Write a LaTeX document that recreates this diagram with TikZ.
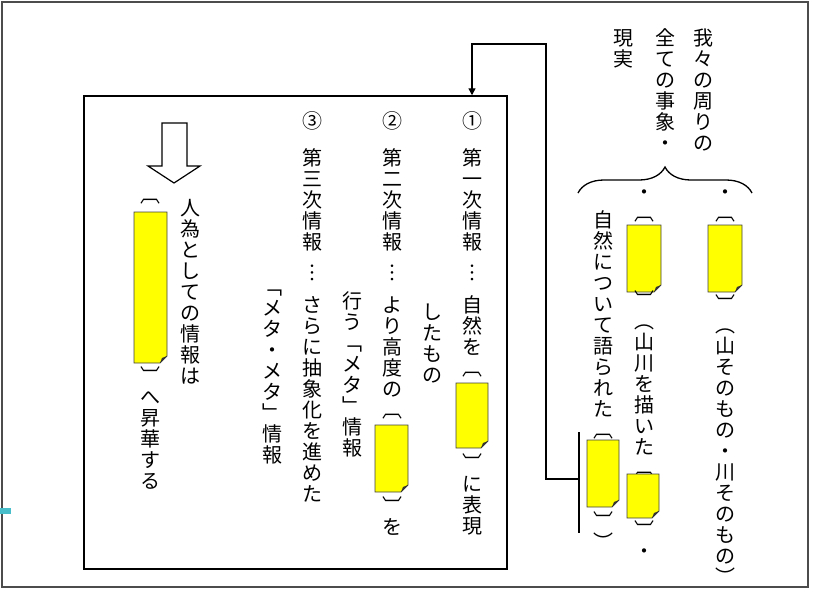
\documentclass[tikz,border=0pt]{standalone}
\usepackage{fontspec}
\setmainfont{Noto Sans CJK JP}
\usetikzlibrary{positioning,decorations.pathreplacing,arrows.meta}
\definecolor{cardyellow}{RGB}{255,255,0}
\definecolor{tickteal}{RGB}{72,190,202}

% one character per cell, top to bottom
\ExplSyntaxOn
\cs_new_protected:Npn \tate_cell:n #1
  { \hbox_to_wd:nn { 21pt } { \hss \vrule~width~0pt~height~18pt~depth~3pt #1 \hss } }
\NewDocumentCommand{\tatecol}{m}
  {
    \vbox
      {
        \offinterlineskip
        \tl_map_inline:nn {#1}
          { \token_if_cs:NTF ##1 { ##1 } { \tate_cell:n {##1} } }
      }
  }
\ExplSyntaxOff
\newcommand{\hs}{\kern10.5pt}

% yellow card with a folded corner: x1, y1, x2, y2
\newcommand{\card}[4]{%
  \draw[cardline, fill=cardyellow] (#1,#2) -- (#3,#2) -- (#3,#4-7) -- (#3-7,#4) -- (#1,#4) -- cycle;
  \fill[black!80] (#3,#4-7) -- (#3-7,#4) -- (#3-5,#4-5) -- cycle;
}

\begin{document}
\begin{tikzpicture}[%
    x=1pt, y=-1pt,
    tate/.style={%
        anchor=north,
        inner sep=0pt,
        text=black,
        font=\fontsize{20}{21}\selectfont
    },
    cardline/.style={%
        draw=black!75,
        line width=0.8pt
    },
    frame/.style={%
        draw=black!70,
        line width=1.6pt
    },
    brace/.style={%
        decorate,
        decoration={brace, amplitude=26pt},
        line width=1.3pt
    },
    >={Triangle[length=7pt, width=7pt]}
]
\useasboundingbox (0,0) rectangle (813,595);

% Frames
\draw[frame] (2,2) rectangle (808,587);
\node[draw, line width=1.5pt, minimum width=423pt, minimum height=473pt, inner sep=0pt] (inner) at (295.5,332.5) {};
\draw[line width=6pt, tickteal] (0,511) -- (11,511);

% Reality
\node[tate] (realA) at (703,27) {\tatecol{我々の周りの}};
\node[tate] (realB) at (665,27) {\tatecol{全ての事象・}};
\node[tate] (realC) at (623,27) {\tatecol{現実}};
\draw[brace] (578,193) -- (752,193);

% Mountain and river
\node[tate] (dotD) at (725,181) {\tatecol{・︹}};
\card{708}{225}{742}{292}
\node[tate] (textD) at (725,293) {\tatecol{︺︵山そのもの・川そのもの︶}};

\node[tate] (dotE) at (644,181) {\tatecol{・︹}};
\card{627}{225}{661}{292}
\node[tate] (textE) at (644,289) {\tatecol{︺︵山川を描いた︹}};
\card{627}{474}{659}{518}
\node[tate] (tailE) at (644,519) {\tatecol{︺・}};

\node[tate] (textF) at (603,209) {\tatecol{自然について語られた︹}};
\card{587}{440}{619}{507}
\node[tate] (tailF) at (603,510) {\tatecol{︺︶}};

% Bar and connector
\coordinate (barTop) at (579,432);
\coordinate (barBot) at (579,533);
\coordinate (bar) at (579,479);
\coordinate (turn) at (546,44);
\draw[line width=1.8pt] (barTop) -- (barBot);

% First information
\node[tate] (num1) at (472,110) {\tatecol{①}};
\node[tate] (info1) at (472,147) {\tatecol{第一次情報\hs ︙\hs 自然を︹}};
\card{456}{383}{488}{448}
\node[tate] (tail1) at (472,452) {\tatecol{︺に表現}};
\node[tate] (info1b) at (432,301) {\tatecol{したもの}};

% Second information
\node[tate] (num2) at (392,110) {\tatecol{②}};
\node[tate] (info2) at (392,147) {\tatecol{第二次情報\hs ︙\hs より高度の︹}};
\card{375}{425}{408}{492}
\node[tate] (tail2) at (392,495) {\tatecol{︺を}};
\node[tate] (info2b) at (352,290) {\tatecol{行う﹁メタ﹂情報}};

% Third information
\node[tate] (num3) at (312,110) {\tatecol{③}};
\node[tate] (info3) at (312,147) {\tatecol{第三次情報\hs ︙\hs さらに抽象化を進めた}};
\node[tate] (info3b) at (272,276) {\tatecol{﹁メタ・メタ﹂情報}};

% Sublimation
\draw[line width=1.2pt] (162,123) -- (187,123) -- (187,166) -- (200,166) -- (174,183) -- (148,166) -- (162,166) -- cycle;
\node[tate] (open4) at (150,184) {\tatecol{︹}};
\card{134}{212}{167}{363}
\node[tate] (tail4) at (150,365) {\tatecol{︺へ昇華する}};
\node[tate] (info4) at (190,197) {\tatecol{人為としての情報は}};

% Arrows
\draw[->, line width=1.3pt] (bar) -| (turn) -| (num1 |- inner.north);

\end{tikzpicture}
\end{document}
